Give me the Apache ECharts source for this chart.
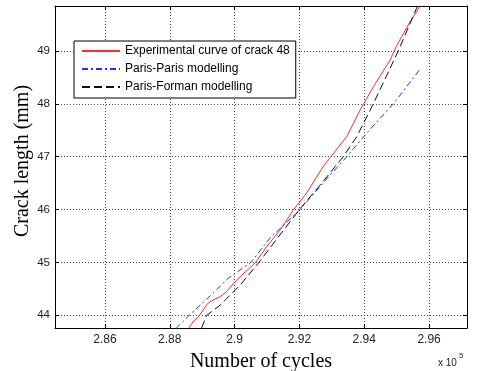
<!DOCTYPE html>
<html>
<head>
<meta charset="utf-8">
<script src="https://cdn.jsdelivr.net/npm/echarts@6/dist/echarts.min.js"></script>
<style>html,body{margin:0;padding:0;background:#fff;}#c{width:478px;height:371px;}</style>
</head>
<body>
<div id="c"></div>
<script>
// x values in units of 10^5 cycles, y in mm
const xTicks = [2.86, 2.88, 2.9, 2.92, 2.94, 2.96];
const yTicks = [44, 45, 46, 47, 48, 49];
const xRange = [2.8446, 2.9717];
const yRange = [43.76, 49.85];

const experimental = [
  [2.8857,43.74],[2.8872,43.88],[2.8888,43.97],[2.8903,44.10],[2.8918,44.23],[2.8934,44.29],
  [2.8955,44.35],[2.8976,44.45],[2.8996,44.60],[2.9022,44.76],[2.9047,44.90],[2.9066,45.01],
  [2.9099,45.30],[2.9140,45.61],[2.9181,45.99],[2.9222,46.31],[2.9273,46.81],[2.9325,47.22],
  [2.9346,47.38],[2.9387,47.88],[2.9428,48.32],[2.9480,48.83],[2.9500,49.10],[2.9541,49.55],[2.9574,49.86]
];
const parisParis = [
  [2.8819,43.75],[2.8860,44.00],[2.8934,44.42],[2.8980,44.70],[2.9050,45.00],[2.9109,45.46],
  [2.9202,46.00],[2.9280,46.55],[2.9346,47.00],[2.9408,47.45],[2.9490,48.00],[2.9574,48.67]
];
const parisForman = [
  [2.8898,43.76],[2.8914,44.00],[2.8955,44.19],[2.9017,44.57],[2.9075,45.00],[2.9200,46.00],
  [2.9273,46.53],[2.9335,47.00],[2.9377,47.38],[2.9428,48.00],[2.9505,49.00],[2.9565,49.86]
];
const seriesNames = ['Experimental curve of crack 48','Paris-Paris modelling','Paris-Forman modelling'];

const chart = echarts.init(document.getElementById('c'), null, {renderer:'canvas'});
const gridLine = {show:true, lineStyle:{color:'#444', width:1, type:[1,2]}};
const axisLine = {show:true, onZero:false, lineStyle:{color:'#000', width:1}};
const option = {
  backgroundColor:'#fff',
  animation:false,
  grid:{left:55, right:11, top:6, bottom:43, containLabel:false, outerBoundsMode:'none'},
  legend:{
    orient:'vertical', left:74, top:41,
    backgroundColor:'#fff', borderColor:'#000', borderWidth:1, borderRadius:0,
    padding:[4,6,5,7], itemGap:6, itemWidth:38, itemHeight:12,
    itemStyle:{color:'transparent', borderColor:'transparent', borderWidth:0},
    textStyle:{fontFamily:'Liberation Sans, Arial', fontSize:12, color:'#000'},
    data:seriesNames
  },
  xAxis:[{
    type:'value', min:xRange[0], max:xRange[1], position:'bottom',
    name:'Number of cycles', nameLocation:'middle', nameGap:24,
    nameTextStyle:{fontFamily:'Liberation Serif, Times New Roman', fontSize:20, color:'#000'},
    axisLine:axisLine,
    axisTick:{show:true, inside:true, length:4, customValues:xTicks, lineStyle:{color:'#000'}},
    axisLabel:{margin:6, customValues:xTicks, fontFamily:'Liberation Sans, Arial', fontSize:12, color:'#222'},
    splitLine:gridLine
  },{
    type:'value', min:xRange[0], max:xRange[1], position:'top',
    axisLine:axisLine,
    axisTick:{show:true, inside:true, length:4, customValues:xTicks, lineStyle:{color:'#000'}},
    axisLabel:{show:false}, splitLine:{show:false}
  }],
  yAxis:[{
    type:'value', min:yRange[0], max:yRange[1], position:'left',
    name:'Crack length (mm)', nameLocation:'middle', nameGap:22, nameMoveOverlap:false,
    nameTextStyle:{fontFamily:'Liberation Serif, Times New Roman', fontSize:20, color:'#000', padding:[0,0,0,12]},
    axisLine:axisLine,
    axisTick:{show:true, inside:true, length:4, customValues:yTicks, lineStyle:{color:'#000'}},
    axisLabel:{margin:5, customValues:yTicks, fontFamily:'Liberation Sans, Arial', fontSize:11.5, color:'#222'},
    splitLine:gridLine
  },{
    type:'value', min:yRange[0], max:yRange[1], position:'right',
    axisLine:axisLine,
    axisTick:{show:true, inside:true, length:4, customValues:yTicks, lineStyle:{color:'#000'}},
    axisLabel:{show:false}, splitLine:{show:false}
  }],
  series:[
    {name:seriesNames[0], type:'line', data:experimental, symbol:'none', smooth:false,
     lineStyle:{color:'#ff2a2a', width:1, type:'solid'}, itemStyle:{color:'#ff2a2a'}},
    {name:seriesNames[1], type:'line', data:parisParis, symbol:'none', smooth:false,
     lineStyle:{color:'#2a2aff', width:1, type:[6,3,2,3]}, itemStyle:{color:'#2a2aff'}},
    {name:seriesNames[2], type:'line', data:parisForman, symbol:'none', smooth:false,
     lineStyle:{color:'#111', width:1, type:[8,4]}, itemStyle:{color:'#111'}}
  ],
  graphic:[
    {type:'text', left:438, top:358, style:{text:'x 10', font:'10px "Liberation Sans", Arial', fill:'#222'}},
    {type:'text', left:459, top:352, style:{text:'5', font:'8px "Liberation Sans", Arial', fill:'#222'}}
  ]
};
chart.setOption(option);
</script>
</body>
</html>
